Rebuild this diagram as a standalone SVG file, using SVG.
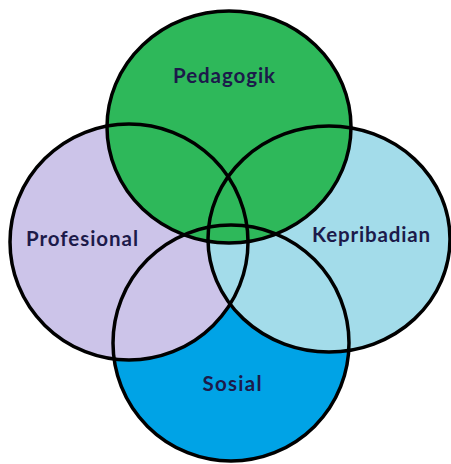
<svg xmlns="http://www.w3.org/2000/svg" width="451" height="464" viewBox="0 0 451 464">
<style>
.o{fill:none;stroke:#000;stroke-width:3.5}
.t{font-family:Lato,"Open Sans","Liberation Sans",sans-serif;font-weight:bold;font-size:20.5px;fill:#1c1a4a;text-anchor:middle;dominant-baseline:central}
</style>
<rect width="451" height="464" fill="#fff"/>
<g id="fills">
<ellipse cx="231" cy="343" rx="118" ry="118" fill="#00a3e6"/>
<ellipse cx="129" cy="242" rx="119" ry="118" fill="#ccc4e9"/>
<ellipse cx="329" cy="239" rx="121" ry="113" fill="#a3dcea"/>
<ellipse cx="229" cy="127" rx="122" ry="116" fill="#2eb85a"/>
</g>
<g id="connectors"></g>
<g id="sosial"><ellipse class="o" cx="231" cy="343" rx="118" ry="118"/><text class="t" x="232" y="383" textLength="59" lengthAdjust="spacing">Sosial</text></g>
<g id="profesional"><ellipse class="o" cx="129" cy="242" rx="119" ry="118"/><text class="t" x="82" y="238" textLength="112" lengthAdjust="spacing">Profesional</text></g>
<g id="kepribadian"><ellipse class="o" cx="329" cy="239" rx="121" ry="113"/><text class="t" x="371" y="234" textLength="118" lengthAdjust="spacing">Kepribadian</text></g>
<g id="pedagogik"><ellipse class="o" cx="229" cy="127" rx="122" ry="116"/><text class="t" x="224" y="75" textLength="102" lengthAdjust="spacing">Pedagogik</text></g>
</svg>
